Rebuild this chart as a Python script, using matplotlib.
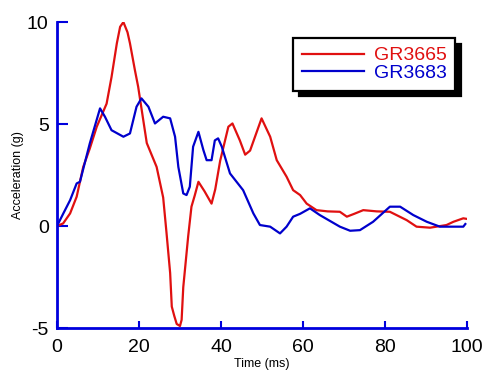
import numpy as np
import matplotlib
matplotlib.use("Agg")
import matplotlib.pyplot as plt

# GR3665 (red)
red_t = [0, 1.5, 3.2, 4.8, 6.4, 8.0, 9.7, 12.1, 13.3, 14.6, 15.4, 16.2, 17.2, 17.8,
         19.0, 19.8, 21.9, 24.3, 25.9, 26.7, 27.6, 28.0, 28.6, 29.2, 30.0, 30.4,
         30.8, 32.0, 32.8, 33.6, 34.5, 36.0, 37.7, 38.6, 39.8, 41.8, 42.8, 44.6,
         45.9, 47.1, 49.9, 52.0, 53.6, 56.0, 57.6, 59.3, 60.9, 63.3, 66.0, 69.0,
         70.7, 72.5, 74.7, 78.0, 81.2, 85.3, 87.7, 91.0, 95.0, 96.7, 99.1, 100.0]
red_a = [0, 0.13, 0.62, 1.44, 2.9, 3.8, 4.87, 6.0, 7.3, 8.96, 9.77, 10.0, 9.5, 8.96,
         7.65, 6.83, 4.07, 2.9, 1.4, -0.3, -2.3, -3.95, -4.4, -4.8, -4.9, -4.6,
         -3.0, -0.5, 0.95, 1.5, 2.17, 1.7, 1.1, 1.8, 3.2, 4.87, 5.03, 4.2,
         3.5, 3.7, 5.28, 4.38, 3.23, 2.42, 1.76, 1.52, 1.1, 0.78, 0.72, 0.7,
         0.46, 0.6, 0.78, 0.72, 0.7, 0.29, -0.03, -0.08, 0.05, 0.21, 0.38, 0.35]

# GR3683 (blue)
blue_t = [0, 1.5, 3.2, 4.8, 5.6, 8.0, 10.5, 11.7, 13.3, 16.2, 17.8, 19.4, 20.6, 22.3,
          23.9, 25.9, 27.6, 28.8, 29.6, 30.8, 31.6, 32.4, 33.2, 34.5, 35.7, 36.5,
          37.7, 38.5, 39.3, 40.2, 42.2, 45.4, 47.9, 49.5, 52.0, 54.4, 56.0, 57.6,
          59.3, 61.7, 64.1, 69.0, 71.5, 73.9, 77.1, 81.2, 83.7, 86.9, 90.2, 93.4,
          99.1, 99.6]
blue_a = [0, 0.6, 1.27, 2.09, 2.17, 4.05, 5.77, 5.36, 4.7, 4.38, 4.54, 5.85, 6.26, 5.85,
          5.03, 5.36, 5.28, 4.38, 2.9, 1.6, 1.52, 1.93, 3.89, 4.62, 3.73, 3.23,
          3.23, 4.2, 4.3, 3.89, 2.58, 1.76, 0.62, 0.05, -0.03, -0.36, -0.03, 0.46,
          0.6, 0.87, 0.54, -0.03, -0.23, -0.2, 0.21, 0.95, 0.95, 0.54, 0.21, -0.03,
          -0.03, 0.1]

x_ticks = [0, 20, 40, 60, 80, 100]
y_ticks = [-5, 0, 5, 10]

RED  = "#e01010"
BLUE = "#0000cc"
AXC  = "#0000dd"

plt.rcParams["font.family"] = ["Liberation Sans", "DejaVu Sans"]
plt.rcParams["axes.unicode_minus"] = False

fig = plt.figure(figsize=(4.9, 3.81), dpi=100)
ax = fig.add_axes([0.1163, 0.139, 0.8367, 0.803])

ax.plot(red_t, red_a, color=RED, lw=1.6, label="GR3665")
ax.plot(blue_t, blue_a, color=BLUE, lw=1.6, label="GR3683")

ax.set_xlim(0, 100)
ax.set_ylim(-5, 10)
ax.set_xticks(x_ticks)
ax.set_yticks(y_ticks)

for s in ("top", "right"):
    ax.spines[s].set_visible(False)
for s in ("left", "bottom"):
    ax.spines[s].set_color(AXC)
    ax.spines[s].set_linewidth(2)

ax.tick_params(axis="y", direction="in", length=8, width=1.5, color=AXC,
               labelsize=14, pad=6)
ax.tick_params(axis="x", direction="in", length=5, width=1.5, color=AXC,
               labelsize=14, pad=8)

ax.set_xlabel("Time (ms)", fontsize=9, labelpad=1)
ax.set_ylabel("Acceleration (g)", fontsize=9, labelpad=2)

leg = ax.legend(loc="upper left", bbox_to_anchor=(0.576, 0.948), borderaxespad=0,
                fontsize=14, handlelength=3.2, handletextpad=0.5,
                labelspacing=0.0, borderpad=0.45, fancybox=False,
                frameon=True, shadow={"ox": 4, "oy": -4, "color": "black", "alpha": 1})
leg.get_frame().set_edgecolor("black")
leg.get_frame().set_linewidth(1.6)
for txt, c in zip(leg.get_texts(), [RED, BLUE]):
    txt.set_color(c)

fig.savefig("out.png", dpi=100)
